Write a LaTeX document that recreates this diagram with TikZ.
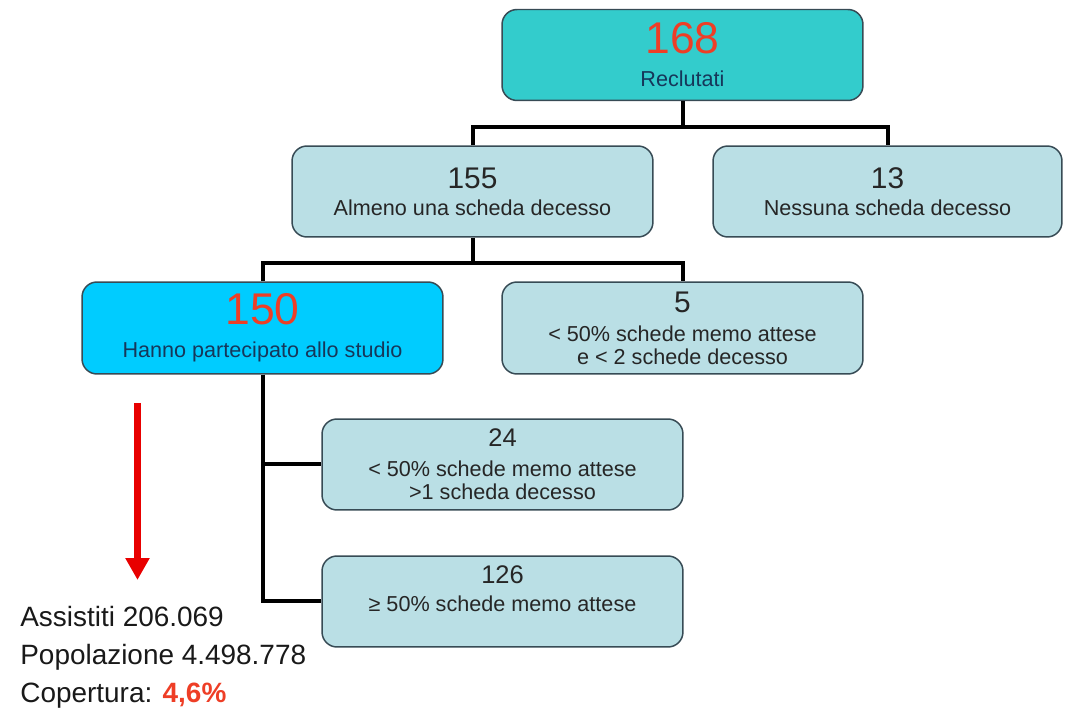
\documentclass[tikz,border=0pt]{standalone}
\usepackage{fontspec}
\setmainfont{Liberation Sans}
\usepackage{tikz}
\usetikzlibrary{positioning,arrows.meta}
\definecolor{turquesa}{RGB}{51,204,204}
\definecolor{celeste}{RGB}{0,204,255}
\definecolor{pastelgris}{RGB}{186,223,229}
\definecolor{bordecaja}{RGB}{55,75,85}
\definecolor{azultexto}{RGB}{22,55,90}
\definecolor{rojocifra}{RGB}{238,62,38}
\definecolor{rojoflecha}{RGB}{232,0,0}
\tikzset{arista/.style={line width=0.08cm}}
\tikzset{caja/.style={draw=bordecaja, line width=0.03cm, rounded corners=0.3cm, fill=pastelgris,
    minimum width=7.22cm, minimum height=1.82cm, inner sep=0pt, align=center,
    text=black!85, font=\fontsize{12.3}{13}\selectfont}}
\tikzset{flecha/.style={draw=rojoflecha, line width=0.15cm, -{Triangle[width=0.46cm,length=0.44cm]}}}
\tikzset{texto/.style={anchor=base west, inner sep=0pt, text=black!90, font=\fontsize{15.9}{17}\selectfont}}
\newcommand{\cifra}[1]{{\fontsize{17}{19}\selectfont #1}}
\newcommand{\cifrita}[1]{{\fontsize{14.5}{16}\selectfont #1}}
\newcommand{\grande}[1]{{\fontsize{25.3}{28}\selectfont\color{rojocifra}#1}}

\begin{document}
\begin{tikzpicture}[x=0.02cm, y=-0.02cm]
    \useasboundingbox (0,0) rectangle (1065,715);

    \node[caja, fill=turquesa, text=azultexto] (168) at (682.5,55) {\grande{168}\\[5.7pt] Reclutati};
    \node[caja] (155) at (472.5,191.5) {\cifra{155}\\[2.3pt] Almeno una scheda decesso};
    \node[caja, minimum width=6.98cm] (13) at (887.5,191.5) {\cifra{13}\\[2.3pt] Nessuna scheda decesso};
    \node[caja, fill=celeste, text=azultexto, minimum height=1.84cm] (150) at (262.5,328) {\grande{150}\\[5.7pt] Hanno partecipato allo studio};
    \node[caja, minimum height=1.84cm] (5) at (682.5,328) {\cifra{5}\\[3.5pt] < 50\% schede memo attese\\ e < 2 schede decesso};
    \node[caja] (24) at (502.5,464.5) {\cifrita{24}\\[4pt] < 50\% schede memo attese\\ >1 scheda decesso};
    \node[caja, text depth=0.5cm] (126) at (502.5,601.5) {\cifrita{126}\\[3pt] ≥ 50\% schede memo attese};

    \coordinate (r1) at (682.5,127);
    \coordinate (r2) at (472.5,263);
    \draw[arista] (168) -- (r1);
    \draw[arista] (155) |- (r1) -| (13);
    \draw[arista] (155) -- (r2);
    \draw[arista] (150) |- (r2) -| (5);
    \draw[arista] (150) |- (24);
    \draw[arista] (150) |- (126);

    \coordinate (f1) at (137.5,403);
    \coordinate (f2) at (137.5,580);
    \draw[flecha] (f1) -- (f2);

    \node[texto] (asis) at (20,627) {Assistiti 206.069};
    \node[texto] (pob) at (20,665) {Popolazione 4.498.778};
    \node[texto] (cob) at (20,703) {Copertura: {\color{rojocifra}\bfseries 4,6\%}};
\end{tikzpicture}
\end{document}
